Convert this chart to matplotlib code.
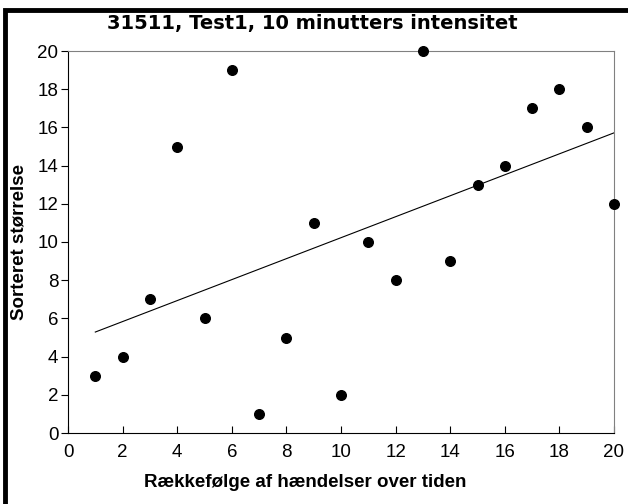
import numpy as np
import matplotlib.pyplot as plt
from matplotlib.patches import Rectangle

# data
order = [1, 2, 3, 4, 5, 6, 7, 8, 9, 10, 11, 12, 13, 14, 15, 16, 17, 18, 19, 20]
size = [3, 4, 7, 15, 6, 19, 1, 5, 11, 2, 10, 8, 20, 9, 13, 14, 17, 18, 16, 12]
xticks = [0, 2, 4, 6, 8, 10, 12, 14, 16, 18, 20]
yticks = [0, 2, 4, 6, 8, 10, 12, 14, 16, 18, 20]

plt.rcParams['font.family'] = ['Liberation Sans', 'DejaVu Sans']

fig = plt.figure(figsize=(6.28, 5.04), dpi=100)
ax = fig.add_axes([68/628, 1 - 433/504, (614 - 68)/628, (433 - 51)/504])

# outer chart frame
fig.patches.append(Rectangle((5/628, -0.05), 1.1, 1 - 10/504 + 0.05,
                             transform=fig.transFigure, fill=False,
                             edgecolor='black', linewidth=3.5))

ax.scatter(order, size, s=48, color='black', zorder=3, clip_on=False)

# linear trendline
k, m = np.polyfit(order, size, 1)
xl = np.array([min(order), max(order)])
ax.plot(xl, k * xl + m, color='black', linewidth=0.8)

ax.set_xlim(0, 20)
ax.set_ylim(0, 20)
ax.set_xticks(xticks)
ax.set_yticks(yticks)
ax.tick_params(axis='x', direction='in', length=5, labelsize=13.5, pad=8)
ax.tick_params(axis='y', direction='out', length=5, labelsize=13.5, pad=2)

ax.spines['top'].set_color('#808080')
ax.spines['right'].set_color('#808080')
ax.spines['left'].set_color('black')
ax.spines['bottom'].set_color('black')

# title and x label are centred on the chart area, not the plot area
ax.set_title('31511, Test1, 10 minutters intensitet', fontsize=14,
             fontweight='bold', family='DejaVu Sans', pad=16, x=0.447)
ax.set_xlabel('Rækkefølge af hændelser over tiden', fontsize=13.5,
              fontweight='bold')
ax.xaxis.set_label_coords(0.434, -0.108)
ax.set_ylabel('Sorteret størrelse', fontsize=13.5, fontweight='bold', labelpad=7)

fig.savefig('out.png', dpi=100)
